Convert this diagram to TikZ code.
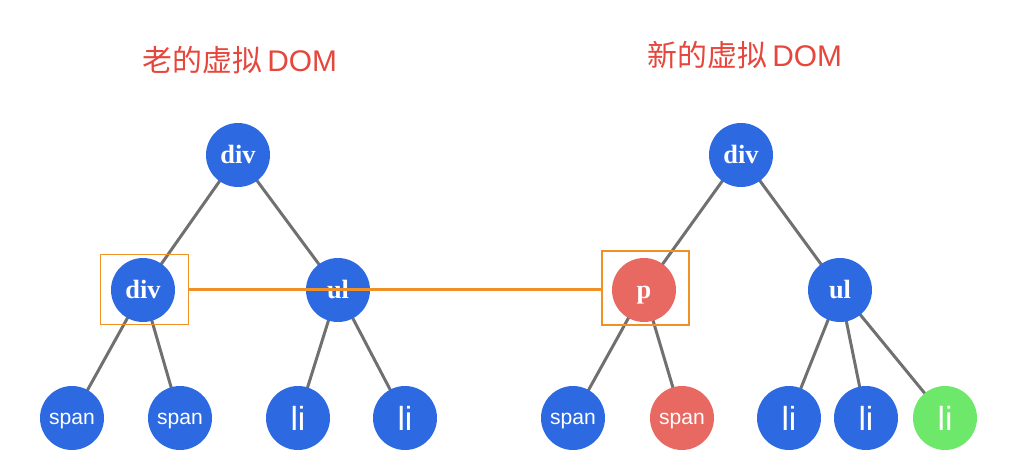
\documentclass[tikz,border=0pt]{standalone}
\usepackage{fontspec}
\setmainfont{Liberation Serif}
\setsansfont{Liberation Sans}
\newfontfamily\cjkfont{Noto Sans CJK SC}
\usepackage{tikz}
\usetikzlibrary{positioning, calc, backgrounds}
\usepackage{xcolor}
\definecolor{vblue}{RGB}{45,106,226}
\definecolor{vred}{RGB}{232,104,98}
\definecolor{vgreen}{RGB}{110,232,106}
\definecolor{vgray}{RGB}{112,112,112}
\definecolor{vorange}{RGB}{240,145,40}
\definecolor{vtitle}{RGB}{230,70,60}

\begin{document}
\begin{tikzpicture}[x=0.02cm, y=-0.02cm,
  every node/.style={text=white},
  vnode/.style={circle, fill=vblue, minimum size=1.28cm, inner sep=0pt, text depth=0pt},
  tag/.style={vnode, font=\fontsize{15}{18}\selectfont\bfseries, text height=10.2pt},
  leaf/.style={vnode, font=\sffamily\fontsize{12}{14}\selectfont, text height=7.2pt},
  item/.style={vnode, font=\sffamily\fontsize{19}{22}\selectfont, text height=14.4pt},
  edge/.style={vgray, line width=1.7pt},
  mark box/.style={draw=vorange, line width=1.1pt, minimum width=1.76cm, minimum height=1.4cm},
  title/.style={text=vtitle, font=\cjkfont\fontsize{17}{20}\selectfont}
]
  \useasboundingbox (0,0) rectangle (1012,460);

  % old virtual DOM
  \node[title] (oldtitle) at (240,60) {老的虚拟\,{\sffamily DOM}};
  \node[tag] (oroot) at (238,155) {div};
  \node[tag] (odiv) at (143,290) {div};
  \node[tag] (oul) at (338,290) {ul};
  \node[leaf] (ospana) at (72,418) {span};
  \node[leaf] (ospanb) at (180,418) {span};
  \node[item] (olia) at (298,418) {li};
  \node[item] (olib) at (405,418) {li};

  % new virtual DOM
  \node[title] (newtitle) at (745,55) {新的虚拟\,{\sffamily DOM}};
  \node[tag] (nroot) at (741,155) {div};
  \node[tag, fill=vred] (np) at (644,290) {p};
  \node[tag] (nul) at (840,290) {ul};
  \node[leaf] (nspana) at (573,418) {span};
  \node[leaf, fill=vred] (nspanb) at (682,418) {span};
  \node[item] (nlia) at (789,418) {li};
  \node[item] (nlib) at (866,418) {li};
  \node[item, fill=vgreen] (nlic) at (945,418) {li};

  % edges behind the nodes
  \begin{scope}[on background layer]
    \foreach \a/\b in {oroot/odiv, oroot/oul, odiv/ospana, odiv/ospanb, oul/olia, oul/olib,
                       nroot/np, nroot/nul, np/nspana, np/nspanb, nul/nlia, nul/nlib, nul/nlic}
      \draw[edge] (\a.center) -- (\b.center);
  \end{scope}

  % compared pair
  \node[mark box] (obox) at (144.5,289.5) {};
  \node[mark box, minimum width=1.74cm, minimum height=1.48cm] (nbox) at (645.5,288) {};
  \draw[vorange, line width=1.5pt] (obox.east) -- (obox.east -| nbox.west);
\end{tikzpicture}
\end{document}
